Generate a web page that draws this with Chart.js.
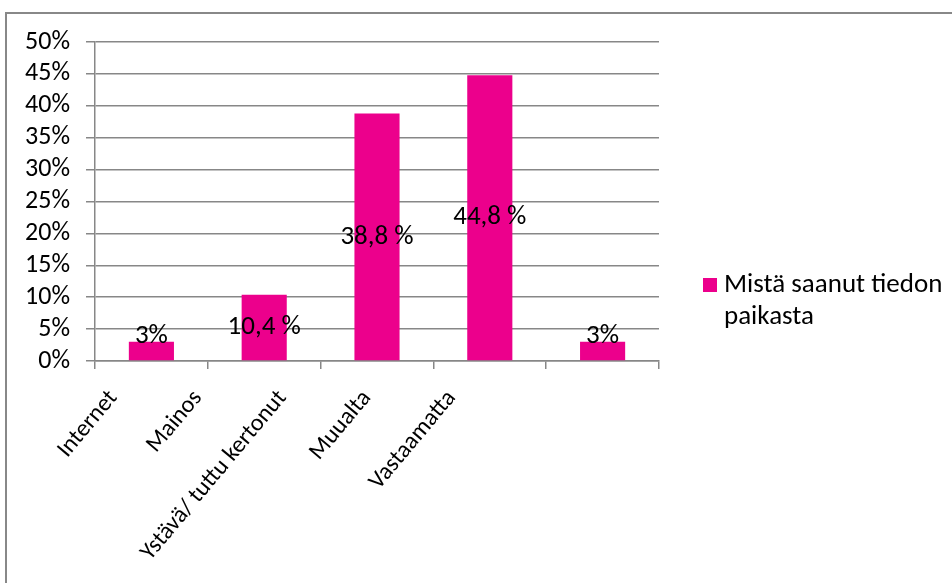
<!DOCTYPE html>
<html>
<head>
<meta charset="utf-8">
<script src="https://cdn.jsdelivr.net/npm/chart.js@4"></script>
<style>
  html, body { margin: 0; padding: 0; background: #fff; overflow: hidden; }
  #wrap { position: relative; width: 952px; height: 583px; }
  #frame {
    position: absolute; left: 5px; top: 12px; right: -20px; bottom: -20px;
    border: 2px solid #888;
  }
  canvas { position: absolute; left: 0; top: 0; }
</style>
</head>
<body>
<div id="wrap">
  <div id="frame"></div>
  <canvas id="chart" width="952" height="583"></canvas>
</div>
<script>
// Where people heard about the place (% of answers)
const categories = ["Internet", "Mainos", "Ystävä/ tuttu kertonut", "Muualta", "Vastaamatta"];
const shares = [3, 10.4, 38.8, 44.8, 3];
const seriesName = ["Mistä saanut tiedon", "paikasta"];

const barColor = "#ec008c";
const gridColor = "#878787";
const fontFamily = "Carlito, Lato, sans-serif";

function pctLabel(v) {
  return Number.isInteger(v) ? v + "%" : v.toFixed(1).replace(".", ",") + " %";
}

// value labels in the middle of each bar, above it when the bar is too short
const valueLabels = {
  id: "valueLabels",
  afterDatasetsDraw(chart) {
    const ctx = chart.ctx;
    const meta = chart.getDatasetMeta(0);
    ctx.save();
    ctx.font = "27px " + fontFamily;
    ctx.fillStyle = "#000";
    ctx.textAlign = "center";
    meta.data.forEach((bar, i) => {
      const text = pctLabel(shares[i]);
      const h = bar.base - bar.y;
      if (h < 24) {
        ctx.textBaseline = "alphabetic";
        ctx.fillText(text, bar.x, bar.y + 1);
      } else {
        ctx.textBaseline = "middle";
        ctx.fillText(text, bar.x, (bar.y + bar.base) / 2);
      }
    });
    ctx.restore();
  }
};

// slanted category names under the x axis
const slantedLabels = {
  id: "slantedLabels",
  afterDraw(chart) {
    const ctx = chart.ctx;
    const xs = chart.scales.x;
    ctx.save();
    ctx.font = "24px " + fontFamily;
    ctx.fillStyle = "#000";
    ctx.textAlign = "right";
    ctx.textBaseline = "middle";
    categories.forEach((name, i) => {
      const c = xs.getPixelForValue(i);
      const x = xs.left + 0.75 * (c - xs.left) - 24;
      const y = xs.top + 33;
      ctx.save();
      ctx.translate(x, y);
      ctx.rotate(-50 * Math.PI / 180);
      ctx.fillText(name, 0, 0);
      ctx.restore();
    });
    ctx.restore();
  }
};

// legend box with the series name broken on two lines
const sideLegend = {
  id: "sideLegend",
  afterDraw(chart) {
    const ctx = chart.ctx;
    const ds = chart.data.datasets[0];
    const left = chart.chartArea.right + 44;
    ctx.save();
    ctx.fillStyle = ds.backgroundColor;
    ctx.fillRect(left, 278, 14, 14);
    ctx.font = "27px " + fontFamily;
    ctx.fillStyle = "#000";
    ctx.textAlign = "left";
    ctx.textBaseline = "middle";
    seriesName.forEach((line, i) => {
      ctx.fillText(line, left + 21, 285 + i * 32);
    });
    ctx.restore();
  }
};

new Chart(document.getElementById("chart"), {
  type: "bar",
  data: {
    labels: categories,
    datasets: [
      {
        label: seriesName.join(" "),
        data: shares,
        backgroundColor: barColor,
        borderWidth: 0,
        categoryPercentage: 1,
        barPercentage: 0.4,
      },
    ],
  },
  options: {
    responsive: false,
    devicePixelRatio: 1,
    animation: false,
    layout: { padding: { top: 42, right: 293, bottom: 214, left: 0 } },
    plugins: {
      legend: { display: false },
      tooltip: { enabled: false },
    },
    scales: {
      x: {
        grid: {
          offset: true,
          drawOnChartArea: false,
          drawTicks: true,
          tickLength: 8,
          color: gridColor,
          lineWidth: 1.5,
        },
        border: { color: gridColor, width: 1.5 },
        ticks: { display: false },
        afterFit(scale) { scale.height = 8; },
      },
      y: {
        min: 0,
        max: 50,
        grid: { color: gridColor, lineWidth: 1.5, tickLength: 9 },
        border: { color: gridColor, width: 1.5 },
        ticks: {
          stepSize: 5,
          autoSkip: false,
          padding: 16,
          color: "#000",
          font: { family: fontFamily, size: 26 },
          callback: (v) => v + "%",
        },
        afterFit(scale) { scale.width = 95; },
      },
    },
  },
  plugins: [valueLabels, slantedLabels, sideLegend],
});
</script>
</body>
</html>
